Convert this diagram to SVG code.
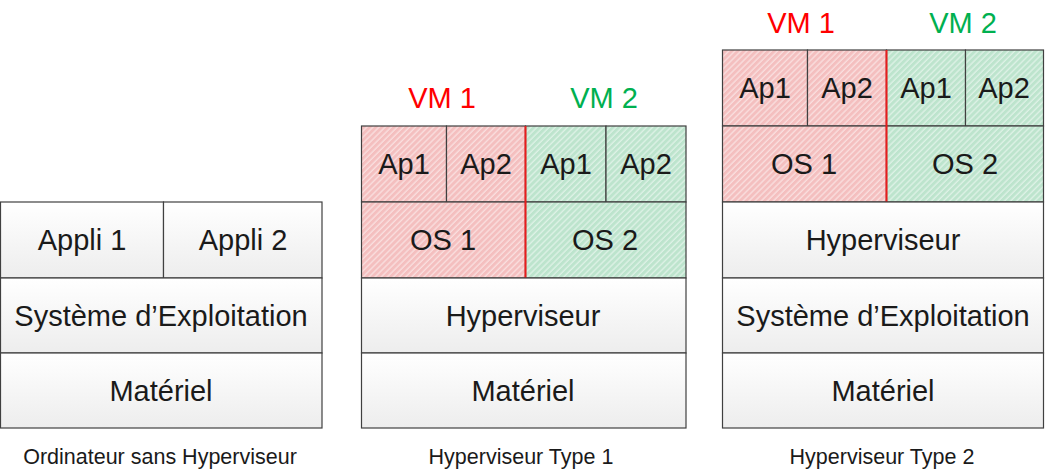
<svg xmlns="http://www.w3.org/2000/svg" width="1046" height="472" viewBox="0 0 1046 472">
<defs>
<linearGradient id="gw" x1="0" y1="0" x2="0" y2="1">
<stop offset="0" stop-color="#ffffff"/>
<stop offset="1" stop-color="#ededed"/>
</linearGradient>
<pattern id="hr" width="4.3" height="4.3" patternUnits="userSpaceOnUse" patternTransform="rotate(45)">
<rect width="4.3" height="4.3" fill="#f4bfbf"/>
<line x1="1" y1="0" x2="1" y2="4.3" stroke="#ffffff" stroke-opacity="0.6" stroke-width="1.1"/>
</pattern>
<pattern id="hg" width="4.3" height="4.3" patternUnits="userSpaceOnUse" patternTransform="rotate(45)">
<rect width="4.3" height="4.3" fill="#bde4cd"/>
<line x1="1" y1="0" x2="1" y2="4.3" stroke="#ffffff" stroke-opacity="0.6" stroke-width="1.1"/>
</pattern>
</defs>
<style>
.w{fill:url(#gw);stroke:#404040;stroke-width:1.2}
.r{fill:url(#hr);stroke:#404040;stroke-width:1.2}
.g{fill:url(#hg);stroke:#404040;stroke-width:1.2}
.t{font-family:"Liberation Sans",Arial,sans-serif;font-size:29px;fill:#1a1a1a;text-anchor:middle}
.c{font-family:"Liberation Sans",Arial,sans-serif;font-size:21.5px;fill:#1a1a1a;text-anchor:middle}
.vr{font-family:"Liberation Sans",Arial,sans-serif;font-size:29px;fill:#ff0000;text-anchor:middle}
.vg{font-family:"Liberation Sans",Arial,sans-serif;font-size:29px;fill:#00b050;text-anchor:middle}
.sep{stroke:#e81c1c;stroke-width:2}
</style>

<g id="col1">
<g id="c1-appli1"><rect class="w" x="0.5" y="202" width="163" height="76"/><text class="t" x="82" y="250">Appli 1</text></g>
<g id="c1-appli2"><rect class="w" x="163.5" y="202" width="158.5" height="76"/><text class="t" x="243" y="250">Appli 2</text></g>
<g id="c1-os"><rect class="w" x="0.5" y="278" width="321.5" height="75"/><text class="t" x="161" y="326">Système d’Exploitation</text></g>
<g id="c1-hw"><rect class="w" x="0.5" y="353" width="321.5" height="75"/><text class="t" x="161" y="401">Matériel</text></g>
<text class="c" x="160" y="464">Ordinateur sans Hyperviseur</text>
</g>

<g id="col2">
<text class="vr" x="442" y="108">VM 1</text>
<text class="vg" x="604" y="108">VM 2</text>
<g id="c2-vm1-ap1"><rect class="r" x="361.5" y="126" width="85" height="76"/><text class="t" x="404" y="174">Ap1</text></g>
<g id="c2-vm1-ap2"><rect class="r" x="446.5" y="126" width="79" height="76"/><text class="t" x="486" y="174">Ap2</text></g>
<g id="c2-vm2-ap1"><rect class="g" x="525.5" y="126" width="80.5" height="76"/><text class="t" x="566" y="174">Ap1</text></g>
<g id="c2-vm2-ap2"><rect class="g" x="606" y="126" width="80" height="76"/><text class="t" x="646" y="174">Ap2</text></g>
<g id="c2-os1"><rect class="r" x="361.5" y="202" width="164" height="76"/><text class="t" x="443" y="250">OS 1</text></g>
<g id="c2-os2"><rect class="g" x="525.5" y="202" width="160.5" height="76"/><text class="t" x="605" y="250">OS 2</text></g>
<line class="sep" x1="525.5" y1="126" x2="525.5" y2="278"/>
<g id="c2-hyp"><rect class="w" x="361.5" y="278" width="324.5" height="75"/><text class="t" x="523" y="326">Hyperviseur</text></g>
<g id="c2-hw"><rect class="w" x="361.5" y="353" width="324.5" height="75"/><text class="t" x="523" y="401">Matériel</text></g>
<text class="c" x="521" y="464">Hyperviseur Type 1</text>
</g>

<g id="col3">
<text class="vr" x="801" y="33">VM 1</text>
<text class="vg" x="963" y="33">VM 2</text>
<g id="c3-vm1-ap1"><rect class="r" x="722.5" y="50" width="85" height="76"/><text class="t" x="765" y="98">Ap1</text></g>
<g id="c3-vm1-ap2"><rect class="r" x="807.5" y="50" width="79" height="76"/><text class="t" x="847" y="98">Ap2</text></g>
<g id="c3-vm2-ap1"><rect class="g" x="886.5" y="50" width="79" height="76"/><text class="t" x="926" y="98">Ap1</text></g>
<g id="c3-vm2-ap2"><rect class="g" x="965.5" y="50" width="78" height="76"/><text class="t" x="1004" y="98">Ap2</text></g>
<g id="c3-os1"><rect class="r" x="722.5" y="126" width="164" height="76"/><text class="t" x="804" y="174">OS 1</text></g>
<g id="c3-os2"><rect class="g" x="886.5" y="126" width="157" height="76"/><text class="t" x="965" y="174">OS 2</text></g>
<line class="sep" x1="886.5" y1="50" x2="886.5" y2="202"/>
<g id="c3-hyp"><rect class="w" x="722.5" y="202" width="321" height="76"/><text class="t" x="883" y="250">Hyperviseur</text></g>
<g id="c3-os"><rect class="w" x="722.5" y="278" width="321" height="75"/><text class="t" x="883" y="326">Système d’Exploitation</text></g>
<g id="c3-hw"><rect class="w" x="722.5" y="353" width="321" height="75"/><text class="t" x="883" y="401">Matériel</text></g>
<text class="c" x="882" y="464">Hyperviseur Type 2</text>
</g>
</svg>
